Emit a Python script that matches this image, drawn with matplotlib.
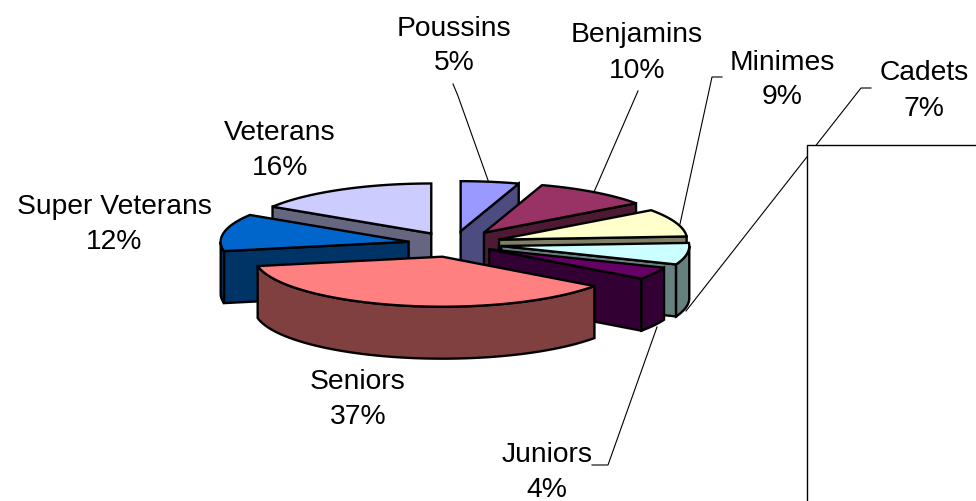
import numpy as np
import matplotlib
matplotlib.use('Agg')
import matplotlib.pyplot as plt
from matplotlib.patches import Polygon, Rectangle

plt.rcParams['font.family'] = ['Liberation Sans', 'DejaVu Sans']

# data, clockwise from 12 o'clock
labels = ['Poussins', 'Benjamins', 'Minimes', 'Cadets', 'Juniors', 'Seniors', 'Super Veterans', 'Veterans']
shares = [5, 10, 9, 7, 4, 37, 12, 16]
top_cols = ['#9999FF', '#993366', '#FFFFCC', '#CCFFFF', '#660066', '#FF8080', '#0066CC', '#CCCCFF']
side_cols = ['#4C4C80', '#4D1933', '#808066', '#668080', '#330033', '#804040', '#003366', '#666680']
explode = [0.26, 0.28, 0.26, 0.26, 0.22, 0.26, 0.24, 0.24]

# pie geometry in pixels
cx, cy = 453, 245
rx, ry = 188, 50
depth = 52
lw = 1.7

# label centres and leader lines
label_xy = [(454, 46), (637, 53), (782, 80), (924, 91), (547, 473), (358, 400), (114, 225), (280, 151)]
leaders = {
    'Poussins': [(453, 85), (458, 97), (489, 184)],
    'Benjamins': [(638, 92), (594, 193)],
    'Minimes': [(722, 78), (712, 78), (680, 225)],
    'Cadets': [(871, 89), (861, 89), (686, 312)],
    'Juniors': [(592, 466), (608, 466), (657, 328)],
}
draw_order = [7, 0, 1, 2, 3, 6, 4, 5]


def edge(th, x0, y0):
    return x0 + rx*np.sin(th), y0 - ry*np.cos(th)


fig = plt.figure(figsize=(9.76, 5.02), dpi=100)
ax = fig.add_axes([0, 0, 1, 1])
ax.set_xlim(0, 976)
ax.set_ylim(502, 0)
ax.axis('off')

for name, pts in leaders.items():
    ax.plot([p[0] for p in pts], [p[1] for p in pts], color='black', lw=0.8, zorder=1)

# empty white box on the right, runs off the canvas
ax.add_patch(Rectangle((807, 146), 200, 400, fc='white', ec='black', lw=1.0, zorder=2))

edges = np.cumsum([0] + shares) / sum(shares) * 2*np.pi
z = 3
for i in draw_order:
    t0, t1 = edges[i], edges[i+1]
    mid = (t0+t1)/2
    x0 = cx + explode[i]*rx*np.sin(mid)
    y0 = cy - explode[i]*ry*np.cos(mid)

    # cut faces that look towards the viewer
    for th, show in [(t0, np.sin(t0) < -1e-6), (t1, np.sin(t1) > 1e-6)]:
        if show:
            ex, ey = edge(th, x0, y0)
            face = [(x0, y0), (ex, ey), (ex, ey+depth), (x0, y0+depth)]
            ax.add_patch(Polygon(face, fc=side_cols[i], ec='black', lw=lw, zorder=z))
            z += 1

    # outer wall, only the front half of the ellipse
    w0, w1 = max(t0, np.pi/2), min(t1, 3*np.pi/2)
    if w1 > w0:
        th = np.linspace(w0, w1, 60)
        ex, ey = edge(th, x0, y0)
        wall = np.r_[np.c_[ex, ey], np.c_[ex, ey+depth][::-1]]
        ax.add_patch(Polygon(wall, fc=side_cols[i], ec='black', lw=lw, zorder=z))
        z += 1

    # top face
    th = np.linspace(t0, t1, 80)
    ex, ey = edge(th, x0, y0)
    top = np.r_[[(x0, y0)], np.c_[ex, ey]]
    ax.add_patch(Polygon(top, fc=top_cols[i], ec='black', lw=lw, zorder=z))
    z += 1

for name, val, (lx, ly) in zip(labels, shares, label_xy):
    ax.text(lx, ly, f'{name}\n{val}%', ha='center', va='center', fontsize=20.3,
            linespacing=1.45, color='black', zorder=z)

fig.savefig('out.png', dpi=100)
